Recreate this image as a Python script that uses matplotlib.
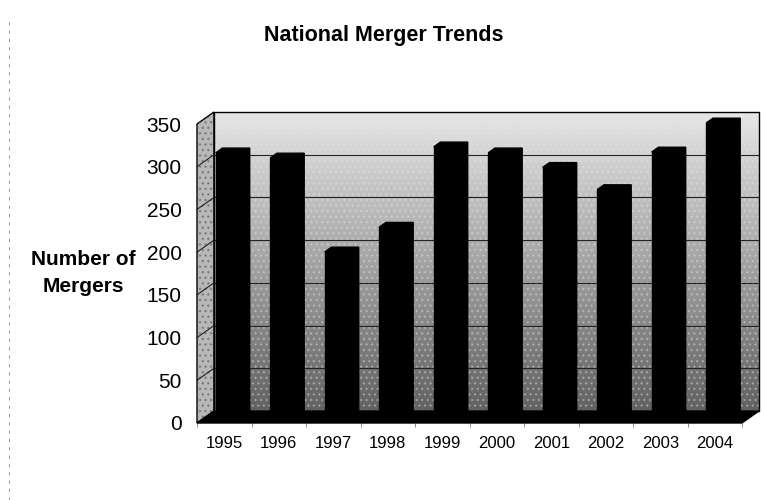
import matplotlib
matplotlib.use("Agg")
import matplotlib.pyplot as plt
from matplotlib.patches import Polygon, Rectangle
from matplotlib.lines import Line2D
import numpy as np

# datos
years = ["1995", "1996", "1997", "1998", "1999", "2000", "2001", "2002", "2003", "2004"]
mergers = [312, 306, 196, 225, 319, 312, 295, 269, 313, 347]
y_ticks = [0, 50, 100, 150, 200, 250, 300, 350]

# profundidad del efecto 3D (unidades de datos)
DX, DY = 0.31, 14
BAR_W = 0.5
Z_FRONT, Z_BACK = 0.3, 0.7

plt.rcParams["font.family"] = ["Liberation Sans", "DejaVu Sans"]
plt.rcParams["hatch.linewidth"] = 1.0

fig = plt.figure(figsize=(7.62, 5.0), dpi=100)
ax = fig.add_axes([197 / 762, 77 / 500, 545 / 762, 299 / 500])

n = len(years)
x0, x1 = -0.5, n - 0.5
ymax = y_ticks[-1]

# pared del fondo con degradado + punteado tipo escaneo
back = Rectangle((x0 + DX, DY), x1 - x0, ymax, facecolor="none",
                 edgecolor="black", lw=1.0, zorder=3, clip_on=False)
ax.add_patch(back)
grad = np.linspace(0.38, 0.9, 256).reshape(-1, 1)
im = ax.imshow(grad, cmap="gray", vmin=0, vmax=1, aspect="auto",
               extent=(x0 + DX, x1 + DX, DY, ymax + DY), origin="lower", zorder=1)
im.set_clip_path(back)
ax.add_patch(Rectangle((x0 + DX, DY), x1 - x0, ymax, facecolor="none",
                       edgecolor="#e6e6e6", lw=0, hatch="...", alpha=0.35,
                       zorder=1.5, clip_on=False))

# pared izquierda
left = Polygon([(x0, 0), (x0 + DX, DY), (x0 + DX, ymax + DY), (x0, ymax)],
               closed=True, facecolor="#b8b8b8", edgecolor="black", lw=1.0,
               zorder=2, clip_on=False)
ax.add_patch(left)
ax.add_patch(Polygon([(x0, 0), (x0 + DX, DY), (x0 + DX, ymax + DY), (x0, ymax)],
                     closed=True, facecolor="none", edgecolor="#555555", lw=0,
                     hatch="...", alpha=0.5, zorder=2.1, clip_on=False))

# lineas de grilla
for v in y_ticks[1:-1]:
    ax.plot([x0 + DX, x1 + DX], [v + DY, v + DY], color="#222222", lw=0.8,
            zorder=2, clip_on=False)
    ax.plot([x0, x0 + DX], [v, v + DY], color="#222222", lw=0.8,
            zorder=2.2, clip_on=False)

# piso
floor = Polygon([(x0, 0), (x1, 0), (x1 + DX, DY), (x0 + DX, DY)],
                closed=True, facecolor="black", edgecolor="black", lw=1.0,
                zorder=3, clip_on=False)
ax.add_patch(floor)

# barras 3D
for i, v in enumerate(mergers):
    fx = i - BAR_W / 2 + DX * Z_FRONT
    fy = DY * Z_FRONT
    bx = DX * (Z_BACK - Z_FRONT)
    by = DY * (Z_BACK - Z_FRONT)
    front = Rectangle((fx, fy), BAR_W, v, facecolor="black", edgecolor="black",
                      zorder=4, clip_on=False)
    top = Polygon([(fx, fy + v), (fx + BAR_W, fy + v), (fx + BAR_W + bx, fy + v + by),
                   (fx + bx, fy + v + by)], closed=True, facecolor="black",
                  edgecolor="black", zorder=4, clip_on=False)
    side = Polygon([(fx + BAR_W, fy), (fx + BAR_W + bx, fy + by),
                    (fx + BAR_W + bx, fy + v + by), (fx + BAR_W, fy + v)],
                   closed=True, facecolor="black", edgecolor="black",
                   zorder=4, clip_on=False)
    ax.add_patch(side)
    ax.add_patch(front)
    ax.add_patch(top)

ax.set_xlim(x0, x1)
ax.set_ylim(0, ymax)
ax.set_xticks(range(n))
ax.set_xticklabels(years, fontsize=12)
ax.set_xticks(np.arange(n + 1) - 0.5, minor=True)
ax.set_yticks(y_ticks)
ax.set_yticklabels([str(t) for t in y_ticks], fontsize=15)
ax.tick_params(axis="x", which="major", length=0, pad=9)
ax.tick_params(axis="x", which="minor", length=3, width=0.6, color="#777777")
ax.tick_params(axis="y", length=0, pad=11)
for s in ax.spines.values():
    s.set_visible(False)
ax.set_facecolor("none")

fig.text(384 / 762, 1 - 35 / 500, "National Merger Trends", ha="center", va="center",
         fontsize=15.5, fontweight="bold")
fig.text(83 / 762, 1 - 273 / 500, "Number of\nMergers", ha="center", va="center",
         fontsize=15, fontweight="bold", linespacing=1.5)

# borde punteado del escaneo
fig.add_artist(Line2D([9 / 762, 9 / 762], [0.0, 0.96], color="#888888", lw=0.6,
                      linestyle=(0, (4, 6))))

fig.savefig("out.png", dpi=100)
